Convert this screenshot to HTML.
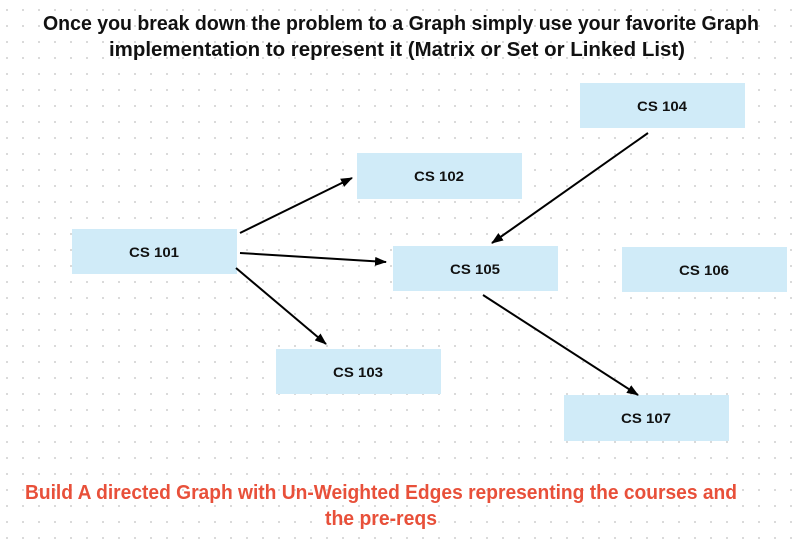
<!DOCTYPE html>
<html><head><style>
html,body{margin:0;padding:0;background:#fff;}
svg{display:block;}
text{font-family:"Liberation Sans Narrow","Liberation Sans",sans-serif;font-weight:bold;}
</style></head><body>
<svg width="800" height="546" viewBox="0 0 800 546" xmlns="http://www.w3.org/2000/svg">
<defs>
<pattern id="dots" x="6" y="9" width="16" height="16" patternUnits="userSpaceOnUse">
<circle cx="1" cy="1" r="1" fill="#cfcfcf"/>
</pattern>
<marker id="ah" markerWidth="12" markerHeight="12" refX="11" refY="6" orient="auto" markerUnits="userSpaceOnUse">
<path d="M0,1.5 L12,6 L0,10.5 z" fill="#000"/>
</marker>
</defs>
<rect width="800" height="546" fill="#fff"/>
<rect width="800" height="546" fill="url(#dots)"/>

<text x="401" y="30" font-size="20" text-anchor="middle" textLength="716" lengthAdjust="spacingAndGlyphs" fill="#111">Once you break down the problem to a Graph simply use your favorite Graph</text>
<text x="397" y="56" font-size="20" text-anchor="middle" textLength="576" lengthAdjust="spacingAndGlyphs" fill="#111">implementation to represent it (Matrix or Set or Linked List)</text>

<g fill="#d0ebf8">
<rect x="72" y="229" width="165" height="45"/>
<rect x="357" y="153" width="165" height="46"/>
<rect x="393" y="246" width="165" height="45"/>
<rect x="580" y="83" width="165" height="45"/>
<rect x="622" y="247" width="165" height="45"/>
<rect x="276" y="349" width="165" height="45"/>
<rect x="564" y="395" width="165" height="46"/>
</g>
<g font-size="14" text-anchor="middle" fill="#111">
<text x="154" y="257" textLength="50" lengthAdjust="spacingAndGlyphs">CS 101</text>
<text x="439" y="181" textLength="50" lengthAdjust="spacingAndGlyphs">CS 102</text>
<text x="475" y="274" textLength="50" lengthAdjust="spacingAndGlyphs">CS 105</text>
<text x="662" y="111" textLength="50" lengthAdjust="spacingAndGlyphs">CS 104</text>
<text x="704" y="275" textLength="50" lengthAdjust="spacingAndGlyphs">CS 106</text>
<text x="358" y="377" textLength="50" lengthAdjust="spacingAndGlyphs">CS 103</text>
<text x="646" y="423" textLength="50" lengthAdjust="spacingAndGlyphs">CS 107</text>
</g>
<g stroke="#000" stroke-width="2" fill="none" marker-end="url(#ah)">
<line x1="240" y1="233" x2="352" y2="178"/>
<line x1="240" y1="253" x2="386" y2="262"/>
<line x1="236" y1="268" x2="326" y2="344"/>
<line x1="648" y1="133" x2="492" y2="243"/>
<line x1="483" y1="295" x2="638" y2="395"/>
</g>

<text x="381" y="499" font-size="20" text-anchor="middle" textLength="712" lengthAdjust="spacingAndGlyphs" fill="#e8503a">Build A directed Graph with Un-Weighted Edges representing the courses and</text>
<text x="381" y="525" font-size="20" text-anchor="middle" textLength="112" lengthAdjust="spacingAndGlyphs" fill="#e8503a">the pre-reqs</text>
</svg>
</body></html>
